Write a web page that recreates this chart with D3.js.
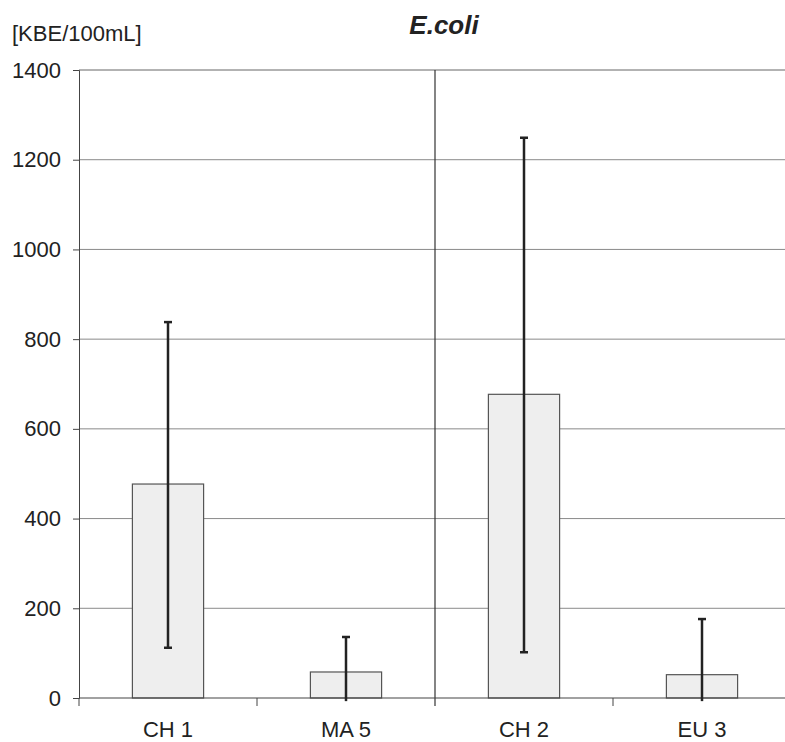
<!DOCTYPE html>
<html>
<head>
<meta charset="utf-8">
<script src="https://cdn.jsdelivr.net/npm/d3@7"></script>
<style>
    body { margin: 0; background: #fff; }
    text { font-family: "Liberation Sans", Arial, sans-serif; fill: #222; }
</style>
</head>
<body>
<div id="chart"></div>
<script>
// chart values
const categories = ["CH 1", "MA 5", "CH 2", "EU 3"];
const means = [477, 58, 677, 52];
const errLow = [112, -7, 102, -7];
const errHigh = [838, 136, 1249, 176];
const yTicks = [0, 200, 400, 600, 800, 1000, 1200, 1400];

const width = 785, height = 742;
const margin = {top: 70, right: -6, bottom: 44, left: 79};

const svg = d3.select("#chart").append("svg")
    .attr("width", width).attr("height", height);

const x = d3.scaleBand()
    .domain(categories)
    .range([margin.left, width - margin.right])
    .paddingInner(0.6).paddingOuter(0.3);

const y = d3.scaleLinear()
    .domain([0, 1400])
    .range([height - margin.bottom, margin.top]);

const step = x.step();
const x0 = margin.left, x1 = width - margin.right;

// horizontal gridlines
svg.append("g").selectAll("line")
    .data(yTicks.filter(d => d > 0))
    .join("line")
    .attr("x1", x0).attr("x2", x1)
    .attr("y1", d => y(d)).attr("y2", d => y(d))
    .attr("stroke", d => d === 1400 ? "#666" : "#8a8a8a")
    .attr("stroke-width", 1);

// y axis
const yAxis = svg.append("g")
    .attr("transform", `translate(${x0},0)`)
    .call(d3.axisLeft(y).tickValues(yTicks).tickFormat(d3.format("d")).tickSize(6).tickPadding(12));
yAxis.select(".domain").attr("stroke", "#444");
yAxis.selectAll(".tick line").attr("stroke", "#444");
yAxis.selectAll(".tick text")
    .style("font-size", "22px")
    .attr("fill", "#222");

// group divider between the two pairs
const midX = x0 + 2 * step;
svg.append("line")
    .attr("x1", midX).attr("x2", midX)
    .attr("y1", y(1400)).attr("y2", y(0) + 8)
    .attr("stroke", "#333").attr("stroke-width", 1.2);

// category separator ticks below the axis
svg.append("g").selectAll("line")
    .data([0, 1, 3])
    .join("line")
    .attr("x1", i => x0 + i * step).attr("x2", i => x0 + i * step)
    .attr("y1", y(0)).attr("y2", y(0) + 8)
    .attr("stroke", "#444");

// bars
svg.append("g").selectAll("rect")
    .data(categories)
    .join("rect")
    .attr("x", d => x(d))
    .attr("y", (d, i) => y(means[i]))
    .attr("width", x.bandwidth())
    .attr("height", (d, i) => y(0) - y(means[i]))
    .attr("fill", "#eeeeee")
    .attr("stroke", "#555")
    .attr("stroke-width", 1.2);

// x axis baseline
svg.append("line")
    .attr("x1", x0).attr("x2", x1)
    .attr("y1", y(0)).attr("y2", y(0))
    .attr("stroke", "#444").attr("stroke-width", 1.2);

// error bars
const eb = svg.append("g").attr("stroke", "#222").attr("stroke-width", 2.5);
categories.forEach((c, i) => {
    const cx = x(c) + x.bandwidth() / 2;
    eb.append("line")
        .attr("x1", cx).attr("x2", cx)
        .attr("y1", y(errLow[i])).attr("y2", y(errHigh[i]));
    eb.append("line")
        .attr("x1", cx - 4).attr("x2", cx + 4)
        .attr("y1", y(errHigh[i])).attr("y2", y(errHigh[i]));
    if (errLow[i] > 0) {
        eb.append("line")
            .attr("x1", cx - 4).attr("x2", cx + 4)
            .attr("y1", y(errLow[i])).attr("y2", y(errLow[i]));
    }
});

// category labels
svg.append("g").selectAll("text")
    .data(categories)
    .join("text")
    .attr("x", d => x(d) + x.bandwidth() / 2)
    .attr("y", 737)
    .attr("text-anchor", "middle")
    .style("font-size", "22px")
    .text(d => d);

// title and unit
svg.append("text")
    .attr("x", 444).attr("y", 34)
    .attr("text-anchor", "middle")
    .style("font-size", "26px")
    .style("font-weight", "bold")
    .style("font-style", "italic")
    .text("E.coli");

svg.append("text")
    .attr("x", 12).attr("y", 41)
    .style("font-size", "22px")
    .text("[KBE/100mL]");
</script>
</body>
</html>
